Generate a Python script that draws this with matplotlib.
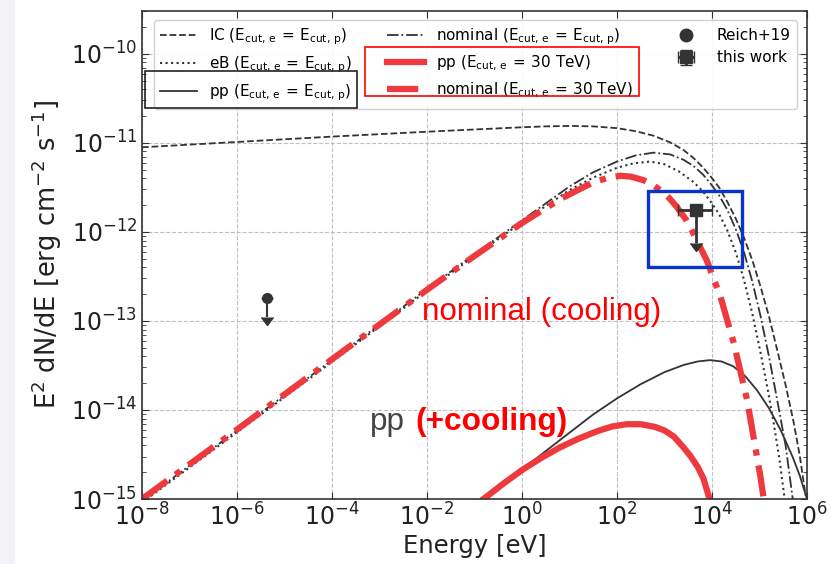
import numpy as np
import matplotlib
matplotlib.use("Agg")
import matplotlib.pyplot as plt
from matplotlib.patches import Rectangle
from matplotlib.lines import Line2D
from matplotlib.ticker import LogLocator, NullLocator

# values, as log10(E/eV) and log10(E^2 dN/dE)
ic_logE = [-8, -6, -4, -2, -1, 0, 0.5, 1, 1.5, 2, 2.4, 2.77, 3.12, 3.4, 3.61, 3.8, 3.96, 4.15, 4.32,
           4.5, 4.67, 4.85, 5.02, 5.2, 5.37, 5.55, 5.72, 5.85, 5.97]
ic_logF = [-11.05, -10.99, -10.93, -10.875, -10.85, -10.825, -10.815, -10.81, -10.815, -10.835, -10.87,
           -10.92, -10.995, -11.08, -11.17, -11.27, -11.37, -11.50, -11.66, -11.85, -12.06, -12.32,
           -12.61, -12.95, -13.32, -13.72, -14.14, -14.52, -14.96]

eb_logE = [-8, -6, -4, -2, -1, 0, 0.5, 1.0, 1.5, 2.0, 2.35, 2.7, 3.0, 3.3, 3.61, 3.8, 3.96, 4.15, 4.32,
           4.5, 4.67, 4.85, 5.02, 5.17, 5.30, 5.42, 5.53]
eb_logF = [-15.04, -14.25, -13.46, -12.66, -12.27, -11.89, -11.71, -11.53, -11.39, -11.28, -11.23,
           -11.21, -11.24, -11.32, -11.44, -11.54, -11.65, -11.80, -11.98, -12.23, -12.53, -12.92,
           -13.35, -13.76, -14.15, -14.55, -15.0]

pp_logE = [-0.81, -0.3, 0.2, 0.6, 1.0, 1.5, 2.0, 2.5, 3.0, 3.4, 3.7, 3.96, 4.2, 4.45, 4.7, 4.95, 5.2,
           5.45, 5.7, 5.85, 6.0]
pp_logF = [-15.0, -14.79, -14.585, -14.42, -14.255, -14.05, -13.87, -13.71, -13.575, -13.495, -13.455,
           -13.44, -13.455, -13.51, -13.62, -13.78, -13.98, -14.23, -14.53, -14.74, -15.0]

nom_logE = [-8, -6, -4, -2, -1, 0, 0.5, 1.0, 1.5, 2.0, 2.4, 2.77, 3.12, 3.4, 3.61, 3.8, 3.96, 4.15,
            4.32, 4.5, 4.67, 4.85, 5.02, 5.2, 5.37, 5.55, 5.70]
nom_logF = [-15.02, -14.23, -13.44, -12.64, -12.25, -11.87, -11.68, -11.49, -11.33, -11.21, -11.14,
            -11.11, -11.13, -11.19, -11.26, -11.35, -11.45, -11.59, -11.75, -11.97, -12.22, -12.56,
            -12.94, -13.40, -13.88, -14.40, -15.0]

pp30_logE = [-0.81, -0.4, 0, 0.4, 0.8, 1.2, 1.6, 1.9, 2.2, 2.5, 2.8, 3.0, 3.2, 3.4, 3.55, 3.7, 3.82, 3.95]
pp30_logF = [-15.0, -14.83, -14.675, -14.54, -14.42, -14.32, -14.235, -14.185, -14.16, -14.16, -14.19,
             -14.23, -14.30, -14.42, -14.52, -14.64, -14.77, -15.0]

nom30_logE = [-8, -6, -4, -2, -1, 0, 0.81, 1.51, 1.8, 2.07, 2.3, 2.56, 2.75, 2.91, 3.1, 3.26, 3.45,
              3.61, 3.89, 4.18, 4.46, 4.74, 5.02, 5.09]
nom30_logF = [-15.0, -14.22, -13.43, -12.65, -12.27, -11.90, -11.63, -11.44, -11.395, -11.37, -11.38,
              -11.42, -11.47, -11.53, -11.62, -11.72, -11.86, -12.02, -12.32, -12.73, -13.25, -13.89,
              -14.75, -15.0]

reich_E, reich_F = 4.2e-6, 1.8e-13
work_E, work_F = 4.5e3, 1.75e-12
work_Elo, work_Ehi = 1.95e3, 1.0e4
work_Fdn = 0.75e-12

lab = r"$\mathrm{E_{cut,\,e}\,=\,E_{cut,\,p}}$"
lab30 = r"$\mathrm{E_{cut,\,e}\,=\,30\ TeV}$"

dark = "#333333"
red = "#ee3a3f"

fig = plt.figure(figsize=(8.31, 5.64), dpi=100)
fig.patches.append(Rectangle((0, 0), 14 / 831, 1, transform=fig.transFigure,
                             color="#f3f3f5", zorder=-10))
ax = fig.add_axes([0.1709, 0.1152, 0.8002, 0.8652])

E = lambda a: 10 ** np.asarray(a)
h_ic, = ax.plot(E(ic_logE), E(ic_logF), ls="--", color=dark, lw=1.3, label="IC (" + lab + ")")
h_eb, = ax.plot(E(eb_logE), E(eb_logF), ls=":", color=dark, lw=1.5, label="eB (" + lab + ")")
h_pp, = ax.plot(E(pp_logE), E(pp_logF), ls="-", color=dark, lw=1.3, label="pp (" + lab + ")")
h_nom, = ax.plot(E(nom_logE), E(nom_logF), ls="-.", color=dark, lw=1.3, label="nominal (" + lab + ")")
h_pp30, = ax.plot(E(pp30_logE), E(pp30_logF), ls="-", color=red, lw=4.5, label="pp (" + lab30 + ")")
h_nom30, = ax.plot(E(nom30_logE), E(nom30_logF), color=red, lw=4.5, dashes=(5, 1.6, 1, 1.6),
                   label="nominal (" + lab30 + ")")

ax.errorbar(reich_E, reich_F, yerr=reich_F * 0.38, uplims=True, fmt="o", color=dark,
            ms=7, capsize=4, elinewidth=1.5)
h_work = ax.errorbar(work_E, work_F, xerr=[[work_E - work_Elo], [work_Ehi - work_E]],
                     yerr=[[work_F - work_Fdn], [0]], uplims=True, fmt="s", color=dark,
                     ms=9, capsize=4, elinewidth=2, label="this work")
h_reich = Line2D([], [], ls="none", marker="o", ms=9, color=dark, label="Reich+19")

ax.set_xscale("log")
ax.set_yscale("log")
ax.set_xlim(1e-8, 1e6)
ax.set_ylim(1e-15, 10 ** -9.52)
ax.xaxis.set_major_locator(LogLocator(base=100.0, numticks=20))
ax.xaxis.set_minor_locator(NullLocator())
ax.yaxis.set_major_locator(LogLocator(base=10.0, numticks=20))
ax.yaxis.set_minor_locator(LogLocator(base=10.0, subs=np.arange(2, 10), numticks=20))
ax.tick_params(which="both", direction="in", top=True, right=True, color=dark, labelsize=17,
               labelcolor="#222222")
ax.tick_params(which="major", length=5)
ax.tick_params(which="minor", length=3)
ax.grid(True, which="major", ls="--", color="#c0c0c0", lw=0.8)
for s in ax.spines.values():
    s.set_color(dark)
    s.set_linewidth(1.2)

ax.set_xlabel("Energy [eV]", fontsize=17.5, color="#222222", labelpad=2)
ax.set_ylabel(r"E$^2$ dN/dE [erg cm$^{-2}$ s$^{-1}$]", fontsize=18.5, color="#222222", labelpad=5)

ax.legend(handles=[h_ic, h_eb, h_pp, h_nom, h_pp30, h_nom30, h_reich, h_work], ncol=3,
          loc="upper left", bbox_to_anchor=(0.018, 0.982), borderaxespad=0, fontsize=11,
          handlelength=2.4, columnspacing=2.3, labelspacing=0.5, fancybox=True, framealpha=0.9)

# overlaid annotations
fig.text(0.508, 0.4326, "nominal (cooling)", color="red", fontsize=22.6,
         family="Liberation Sans", va="baseline")
fig.text(0.445, 0.2376, "pp", color="#444444", fontsize=22.6, family="Liberation Sans", va="baseline")
fig.text(0.4994, 0.2376, "(+cooling)", color="red", fontsize=22.8, family="Liberation Sans",
         weight="bold", va="baseline")

fig.patches.append(Rectangle((145 / 831, 1 - 108 / 564), 212 / 831, 37 / 564, transform=fig.transFigure,
                             fill=False, ec="#222222", lw=1.2))
fig.patches.append(Rectangle((365 / 831, 1 - 96 / 564), 274 / 831, 49 / 564, transform=fig.transFigure,
                             fill=False, ec="red", lw=1.2))
fig.patches.append(Rectangle((648 / 831, 1 - 267 / 564), 94 / 831, 76 / 564, transform=fig.transFigure,
                             fill=False, ec="#0a35c8", lw=2.4))

fig.savefig("out.png", dpi=100)
